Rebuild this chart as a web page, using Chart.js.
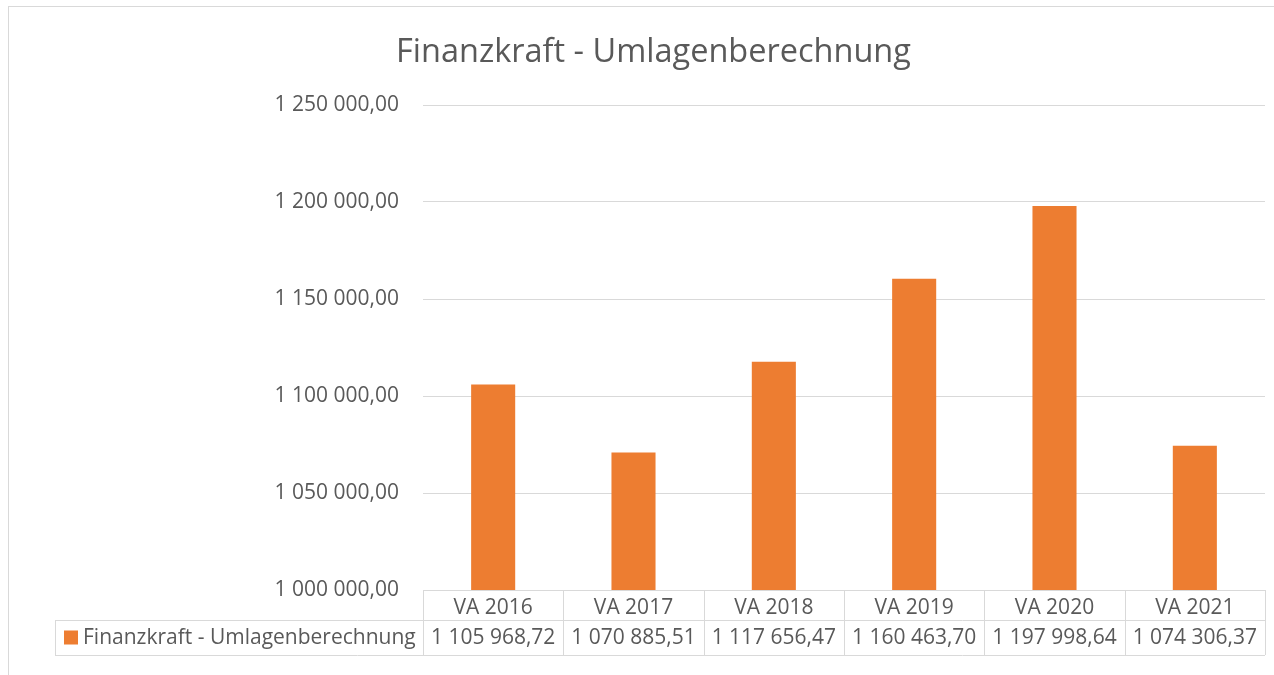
<!DOCTYPE html>
<html>
<head>
<meta charset="utf-8">
<script src="https://cdn.jsdelivr.net/npm/chart.js@4/dist/chart.umd.min.js"></script>
<style>
  html, body { margin: 0; padding: 0; background: #fff; }
  #wrap { position: relative; width: 1274px; height: 675px; }
</style>
</head>
<body>
<div id="wrap"><canvas id="finanzChart" width="1274" height="675"></canvas></div>
<script>
// data
const categories = ["VA 2016", "VA 2017", "VA 2018", "VA 2019", "VA 2020", "VA 2021"];
const finanzkraft = [1105968.72, 1070885.51, 1117656.47, 1160463.70, 1197998.64, 1074306.37];
const seriesName = "Finanzkraft - Umlagenberechnung";

const textColor = "#595959";
const lineColor = "#D9D9D9";
const barColor = "#ED7D31";
const fontFamily = "'Open Sans', 'Liberation Sans', sans-serif";

function fmt(v) {
  const parts = v.toFixed(2).split(".");
  return parts[0].replace(/\B(?=(\d{3})+(?!\d))/g, " ") + "," + parts[1];
}

// frame + data table under the plot
const tablePlugin = {
  id: "dataTable",
  beforeDraw(chart) {
    const ctx = chart.ctx;
    ctx.save();
    ctx.strokeStyle = lineColor;
    ctx.lineWidth = 1;
    ctx.strokeRect(8.5, 6.5, 1300, 700);
    ctx.restore();
  },
  afterDraw(chart) {
    const ctx = chart.ctx;
    const x = chart.scales.x;
    const area = chart.chartArea;
    const band = (x.right - x.left) / categories.length;
    const rowTop = area.bottom + 30;
    const rowBottom = rowTop + 35;
    const legendLeft = 55;

    ctx.save();
    ctx.strokeStyle = lineColor;
    ctx.lineWidth = 1;
    ctx.beginPath();
    // header row top (axis line)
    ctx.moveTo(x.left, area.bottom + 0.5);
    ctx.lineTo(x.right, area.bottom + 0.5);
    // data row
    ctx.moveTo(legendLeft, rowTop + 0.5);
    ctx.lineTo(x.right, rowTop + 0.5);
    ctx.moveTo(legendLeft, rowBottom + 0.5);
    ctx.lineTo(x.right, rowBottom + 0.5);
    ctx.moveTo(legendLeft + 0.5, rowTop);
    ctx.lineTo(legendLeft + 0.5, rowBottom);
    for (let i = 0; i <= categories.length; i++) {
      const px = Math.round(x.getPixelForValue(i) - band / 2) + 0.5;
      ctx.moveTo(px, area.bottom);
      ctx.lineTo(px, rowBottom);
    }
    ctx.stroke();

    // legend key in table
    const ds = chart.data.datasets[0];
    const midY = (rowTop + rowBottom) / 2;
    ctx.fillStyle = ds.backgroundColor;
    ctx.fillRect(64, midY - 7, 14, 14);
    ctx.fillStyle = textColor;
    ctx.font = "21px " + fontFamily;
    ctx.textBaseline = "middle";
    ctx.textAlign = "left";
    ctx.fillText(ds.label, 83, midY + 1);

    // values
    ctx.textAlign = "center";
    ds.data.forEach((v, i) => {
      ctx.fillText(fmt(v), x.getPixelForValue(i), midY + 1);
    });
    ctx.restore();
  }
};

const ctx = document.getElementById("finanzChart").getContext("2d");
new Chart(ctx, {
  type: "bar",
  data: {
    labels: categories,
    datasets: [
      {
        label: seriesName,
        data: finanzkraft,
        backgroundColor: barColor,
        barPercentage: 0.314,
        categoryPercentage: 1,
      },
    ],
  },
  options: {
    responsive: false,
    animation: false,
    devicePixelRatio: 1,
    layout: { padding: { left: 42, right: 9, top: 0, bottom: 55 } },
    plugins: {
      legend: { display: false },
      tooltip: { enabled: false },
      title: {
        display: true,
        text: seriesName,
        color: textColor,
        font: { family: fontFamily, size: 32.5, weight: "normal" },
        padding: { top: 33, bottom: 33 },
      },
    },
    scales: {
      x: {
        grid: { display: false, drawTicks: false },
        border: { display: false },
        ticks: {
          color: textColor,
          font: { family: fontFamily, size: 21 },
          padding: 5,
          maxRotation: 0,
        },
        afterFit(scale) { scale.height = 30; },
      },
      y: {
        min: 1000000,
        max: 1250000,
        grid: { color: lineColor, drawTicks: false },
        border: { display: false },
        ticks: {
          stepSize: 50000,
          color: textColor,
          font: { family: fontFamily, size: 21 },
          padding: 24,
          callback: (v) => fmt(v),
        },
        afterFit(scale) { scale.width = 381; },
      },
    },
  },
  plugins: [tablePlugin],
});
</script>
</body>
</html>
